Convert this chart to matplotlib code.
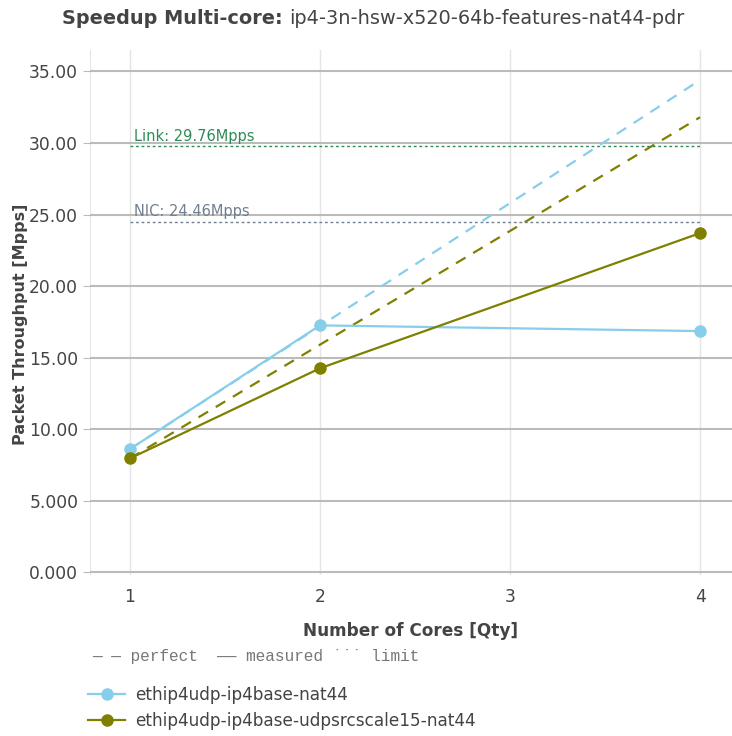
import numpy as np
import matplotlib
matplotlib.use('Agg')
import matplotlib.pyplot as plt
from matplotlib.lines import Line2D

cores = [1, 2, 4]
names = ['ethip4udp-ip4base-nat44', 'ethip4udp-ip4base-udpsrcscale15-nat44']
colors = ['#87CEEB', '#808000']
measured = [[8.6, 17.25, 16.85], [7.95, 14.25, 23.7]]
link_limit = 29.76
nic_limit = 24.46
yticks = [0, 5, 10, 15, 20, 25, 30, 35]
ylabels = ['0.000', '5.000', '10.00', '15.00', '20.00', '25.00', '30.00', '35.00']

txt = '#444444'
plt.rcParams['font.family'] = 'DejaVu Sans'

fig = plt.figure(figsize=(7.32, 7.36), dpi=100)
ax = fig.add_axes([90 / 732, 161 / 736, 642 / 732, 525 / 736])

for i in range(len(names)):
    base = measured[i][0]
    ax.plot([1, 4], [base * 1, base * 4], ls=(0, (5, 4)), color=colors[i], lw=1.6, zorder=3)
    ax.plot(cores, measured[i], '-o', color=colors[i], lw=1.6, ms=8, zorder=4)

ax.plot([1, 4], [link_limit, link_limit], ls=(0, (2, 2)), color='#2E8B57', lw=1, zorder=3)
ax.plot([1, 4], [nic_limit, nic_limit], ls=(0, (2, 2)), color='#708090', lw=1, zorder=3)
ax.text(1.02, link_limit + 0.2, 'Link: 29.76Mpps', color='#2E8B57', fontsize=10.5, va='bottom')
ax.text(1.02, nic_limit + 0.2, 'NIC: 24.46Mpps', color='#708090', fontsize=10.5, va='bottom')

ax.set_xlim(0.79, 4.168)
ax.set_ylim(-0.2, 36.5)
ax.set_xticks([1, 2, 3, 4])
ax.set_xticklabels(['1', '2', '3', '4'])
ax.set_yticks(yticks)
ax.set_yticklabels(ylabels)
ax.tick_params(axis='both', colors='#bbbbbb', labelcolor=txt, labelsize=12.3, length=5)
ax.tick_params(axis='x', length=0, pad=9)
ax.grid(axis='y', color='#bbbbbb', lw=1.5, zorder=0)
ax.grid(axis='x', color='#e5e5e5', lw=1, zorder=0)
ax.axvline(0.79, color='#e5e5e5', lw=1.5, zorder=0)
for s in ax.spines.values():
    s.set_visible(False)

ax.set_xlabel('Number of Cores [Qty]', fontsize=12.2, fontweight='bold', color=txt, labelpad=12)
ax.set_ylabel('Packet Throughput [Mpps]', fontsize=11.5, fontweight='bold', color=txt)
ax.yaxis.set_label_coords(-62 / 642, 0.478)

fig.text(283 / 732, 1 - 18 / 736, 'Speedup Multi-core:', ha='right', va='center',
         fontsize=13.9, fontweight='bold', color=txt)
fig.text(289 / 732, 1 - 18 / 736, 'ip4-3n-hsw-x520-64b-features-nat44-pdr', ha='left', va='center',
         fontsize=13.9, color=txt)

fig.text(92 / 732, 1 - 657 / 736, '\u2014 \u2014 perfect  \u2014\u2014 measured \u02d9\u02d9\u02d9 limit',
         family='Liberation Mono', fontsize=11.6, color='#777777', va='center')

handles = [Line2D([0], [0], color=c, lw=1.6, marker='o', ms=8) for c in colors]
fig.legend(handles, names, loc='upper left', bbox_to_anchor=(88 / 732, 1 - 686 / 736),
           frameon=False, fontsize=12.2, labelcolor=txt, handlelength=2.2, handletextpad=0.6,
           labelspacing=0.45, borderaxespad=0, borderpad=0)

fig.savefig('out.png', dpi=100)
